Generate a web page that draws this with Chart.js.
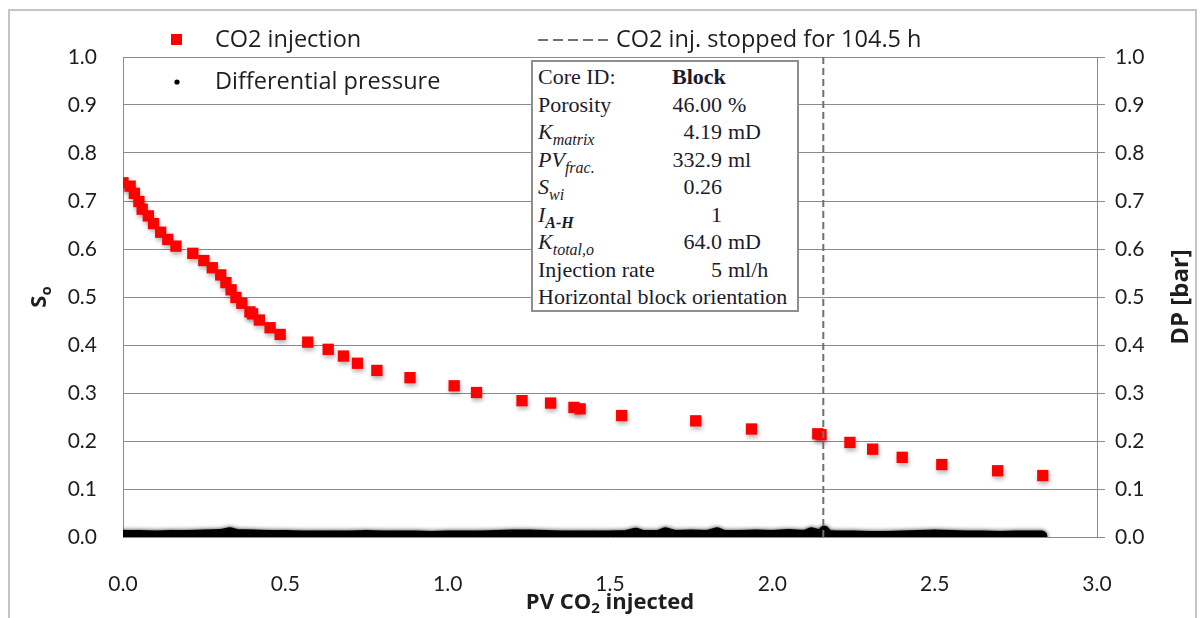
<!DOCTYPE html>
<html>
<head>
<meta charset="utf-8">
<script src="https://cdn.jsdelivr.net/npm/chart.js@4.4.1/dist/chart.umd.min.js"></script>
<style>
  html, body { margin: 0; padding: 0; background: #fff; }
  #wrap { position: relative; width: 1203px; height: 618px; overflow: hidden; }
  canvas { display: block; }
  #info {
    position: absolute; left: 531px; top: 60px; width: 264px; height: 248px;
    border: 2px solid #8e8e8e; background: #fff;
    font-family: "Liberation Serif", "Times New Roman", serif; font-size: 22px; color: #1b1b2b;
  }
  #info .row { position: absolute; left: 0; width: 264px; height: 27.5px; line-height: 27.5px; white-space: nowrap; }
  #info .lab { position: absolute; left: 5px; }
  #info .val { position: absolute; right: 75px; text-align: right; }
  #info .blk { position: absolute; left: 139px; font-weight: bold; }
  #info .unit { position: absolute; left: 195px; }
  #info i { font-style: italic; }
  #info sub { font-size: 16px; vertical-align: -6px; line-height: 0; font-style: italic; }
  #info sub.b { font-weight: bold; }
</style>
</head>
<body>
<div id="wrap">
  <canvas id="c" width="1203" height="618"></canvas>
  <div id="info">
    <div class="row" style="top:1px"><span class="lab">Core ID:</span><span class="blk">Block</span></div>
    <div class="row" style="top:28.5px"><span class="lab">Porosity</span><span class="val">46.00</span><span class="unit">%</span></div>
    <div class="row" style="top:56px"><span class="lab"><i>K</i><sub>matrix</sub></span><span class="val">4.19</span><span class="unit">mD</span></div>
    <div class="row" style="top:83.5px"><span class="lab"><i>PV</i><sub>frac.</sub></span><span class="val">332.9</span><span class="unit">ml</span></div>
    <div class="row" style="top:111px"><span class="lab"><i>S</i><sub>wi</sub></span><span class="val">0.26</span></div>
    <div class="row" style="top:138.5px"><span class="lab"><i>I</i><sub class="b">A-H</sub></span><span class="val">1</span></div>
    <div class="row" style="top:166px"><span class="lab"><i>K</i><sub>total,o</sub></span><span class="val">64.0</span><span class="unit">mD</span></div>
    <div class="row" style="top:193.5px"><span class="lab">Injection rate</span><span class="val">5</span><span class="unit">ml/h</span></div>
    <div class="row" style="top:221px"><span class="lab">Horizontal block orientation</span></div>
  </div>
</div>
<script>
// Oil saturation during CO2 injection (PV injected vs. So)
const soPV = [0.000, 0.022, 0.035, 0.049, 0.059, 0.078, 0.094, 0.116, 0.138, 0.163,
              0.215, 0.249, 0.275, 0.301, 0.317, 0.333, 0.348, 0.366, 0.391, 0.399,
              0.420, 0.453, 0.484, 0.569, 0.632, 0.679, 0.722, 0.782, 0.884, 1.020,
              1.089, 1.229, 1.317, 1.389, 1.408, 1.536, 1.764, 1.936, 2.140, 2.150,
              2.239, 2.309, 2.400, 2.522, 2.694, 2.833];
const soSat = [0.738, 0.731, 0.716, 0.699, 0.683, 0.669, 0.653, 0.635, 0.620, 0.606,
               0.591, 0.576, 0.561, 0.546, 0.530, 0.515, 0.499, 0.487, 0.469, 0.465,
               0.452, 0.436, 0.422, 0.406, 0.391, 0.377, 0.362, 0.347, 0.332, 0.315,
               0.301, 0.284, 0.279, 0.270, 0.267, 0.253, 0.242, 0.225, 0.215, 0.213,
               0.197, 0.183, 0.166, 0.151, 0.138, 0.128];

// Differential pressure across the block [bar]
const dpPV = [0.00, 0.05, 0.10, 0.15, 0.20, 0.25, 0.30, 0.33, 0.35, 0.40, 0.45, 0.50,
              0.55, 0.60, 0.65, 0.70, 0.75, 0.80, 0.85, 0.90, 0.95, 1.00, 1.05, 1.10,
              1.15, 1.20, 1.25, 1.30, 1.35, 1.40, 1.45, 1.50, 1.55, 1.58, 1.60, 1.65,
              1.67, 1.70, 1.75, 1.80, 1.83, 1.85, 1.90, 1.95, 2.00, 2.05, 2.10, 2.12,
              2.14, 2.155, 2.16, 2.17, 2.20, 2.25, 2.30, 2.35, 2.40, 2.45, 2.50, 2.55,
              2.60, 2.65, 2.70, 2.75, 2.80, 2.83];
const dpBar = [0.003, 0.003, 0.002, 0.003, 0.003, 0.004, 0.005, 0.009, 0.005, 0.004, 0.003, 0.003,
               0.002, 0.002, 0.002, 0.002, 0.003, 0.002, 0.002, 0.002, 0.001, 0.002, 0.002, 0.002,
               0.003, 0.004, 0.004, 0.003, 0.002, 0.002, 0.002, 0.002, 0.003, 0.008, 0.003, 0.003,
               0.009, 0.003, 0.004, 0.003, 0.009, 0.003, 0.003, 0.004, 0.003, 0.005, 0.003, 0.009,
               0.005, -0.005, 0.012, 0.003, 0.002, 0.002, 0.001, 0.001, 0.002, 0.003, 0.004, 0.003,
               0.002, 0.002, 0.001, 0.002, 0.002, 0.002];

// Moment CO2 injection was paused (104.5 h)
const stopPV = 2.157;

// Axis tick steps
const xTickStep = 0.5;
const yTickStep = 0.1;

const soPoints = soPV.map((x, i) => ({ x, y: soSat[i] }));
const dpPoints = dpPV.map((x, i) => ({ x, y: dpBar[i] }));
const stopLine = [{ x: stopPV, y: 0 }, { x: stopPV, y: 1 }];

const GRID = '#8a8a8a';
const TXT = '#1e1e1e';
const SANS = 'Lato, "Open Sans", sans-serif';
const WIDE = '"Open Sans", Lato, sans-serif';
const tickFont = { family: SANS, size: 21 };

// Soft drop shadow under the markers, a little blur on the pressure trace
const markerShade = {
  id: 'markerShade',
  beforeDatasetDraw(chart, args) {
    const c = chart.ctx;
    c.save();
    if (args.index === 2) {
      c.shadowColor = 'rgba(0,0,0,0.28)'; c.shadowBlur = 4; c.shadowOffsetY = 3; c.shadowOffsetX = 1;
    } else if (args.index === 1) {
      c.shadowColor = 'rgba(0,0,0,0.8)'; c.shadowBlur = 4;
    }
  },
  afterDatasetDraw(chart) { chart.ctx.restore(); }
};

// Frame, legend and axis titles
const decor = {
  id: 'decor',
  afterDraw(chart) {
    const c = chart.ctx;
    c.save();
    c.strokeStyle = '#c4c4c4'; c.lineWidth = 2;
    c.strokeRect(9, 10, 1187, 640);

    c.textBaseline = 'middle';
    // legend entries
    c.fillStyle = '#ff0000';
    c.fillRect(171, 34, 11, 11);
    c.fillStyle = '#000';
    c.beginPath(); c.arc(177, 82, 2.6, 0, Math.PI * 2); c.fill();
    c.strokeStyle = '#707070'; c.lineWidth = 2; c.setLineDash([10, 5]);
    c.beginPath(); c.moveTo(538, 40); c.lineTo(612, 40); c.stroke();
    c.setLineDash([]);
    c.fillStyle = TXT;
    c.textAlign = 'left';
    c.font = '23.5px ' + WIDE;
    c.fillText('CO2 injection', 215, 40);
    c.fillText('Differential pressure', 215, 82);
    c.fillText('CO2 inj. stopped for 104.5 h', 616, 40);

    // x title with subscript
    const big = 'bold 22px ' + WIDE, small = 'bold 15px ' + WIDE;
    const parts = [['PV CO', big, 0], ['2', small, 6], [' injected', big, 0]];
    let w = 0;
    parts.forEach(p => { c.font = p[1]; w += c.measureText(p[0]).width; });
    let x = 610 - w / 2;
    parts.forEach(p => { c.font = p[1]; c.fillText(p[0], x, 603 + p[2]); x += c.measureText(p[0]).width; });

    // left title: S with subscript o
    c.save();
    c.translate(40, 297); c.rotate(-Math.PI / 2);
    c.font = 'bold 22px ' + WIDE;
    const sw = c.measureText('S').width;
    c.font = 'bold 15px ' + WIDE;
    const ow = c.measureText('o').width;
    const sx = -(sw + ow) / 2;
    c.font = 'bold 22px ' + WIDE; c.fillText('S', sx, 0);
    c.font = 'bold 15px ' + WIDE; c.fillText('o', sx + sw, 7);
    c.restore();

    // right title
    c.save();
    c.translate(1181, 297); c.rotate(-Math.PI / 2);
    c.font = 'bold 24px ' + WIDE; c.textAlign = 'center';
    c.fillText('DP [bar]', 0, 0);
    c.restore();
    c.restore();
  }
};

new Chart(document.getElementById('c'), {
  type: 'scatter',
  data: {
    datasets: [
      { label: 'CO2 inj. stopped for 104.5 h', data: stopLine, showLine: true, borderColor: '#707070',
        borderWidth: 2, borderDash: [7, 4], pointRadius: 0, yAxisID: 'y' },
      { label: 'Differential pressure', data: dpPoints, showLine: true, borderColor: '#000', borderWidth: 11,
        pointRadius: 3, pointBackgroundColor: '#000', pointBorderWidth: 0, borderJoinStyle: 'round',
        borderCapStyle: 'round', yAxisID: 'y2' },
      { label: 'CO2 injection', data: soPoints, pointStyle: 'rect', pointRadius: 8, backgroundColor: '#ff0000',
        pointBorderWidth: 0, borderWidth: 0, yAxisID: 'y' }
    ]
  },
  options: {
    responsive: false, animation: false, devicePixelRatio: 1,
    layout: { padding: { top: 57, left: 0, right: 0, bottom: 0 } },
    plugins: { legend: { display: false }, tooltip: { enabled: false } },
    scales: {
      x: { type: 'linear', min: 0, max: 3,
        ticks: { stepSize: xTickStep, callback: v => v.toFixed(1), font: tickFont, color: TXT, padding: 27, maxRotation: 0 },
        grid: { display: false }, border: { display: false },
        afterFit: s => { s.height = 81; } },
      y: { position: 'left', min: 0, max: 1,
        ticks: { stepSize: yTickStep, callback: v => v.toFixed(1), font: tickFont, color: TXT, padding: 26 },
        grid: { color: GRID, lineWidth: 1, drawTicks: false }, border: { color: GRID, width: 1 },
        afterFit: s => { s.width = 123; } },
      y2: { position: 'right', min: 0, max: 1,
        ticks: { stepSize: yTickStep, callback: v => v.toFixed(1), font: tickFont, color: TXT, padding: 10 },
        grid: { drawOnChartArea: false, drawTicks: true, tickLength: 8, color: GRID, lineWidth: 1 },
        border: { color: GRID, width: 1 },
        afterFit: s => { s.width = 106; } }
    }
  },
  plugins: [markerShade, decor]
});
</script>
</body>
</html>
